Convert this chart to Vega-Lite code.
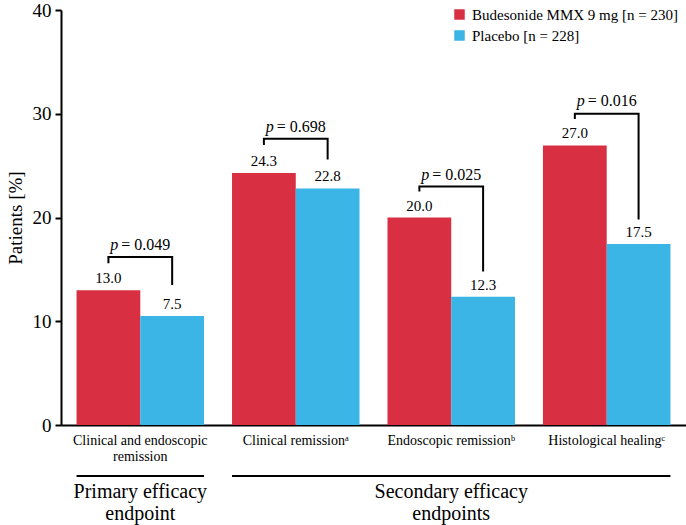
{
  "$schema": "https://vega.github.io/schema/vega-lite/v6.json",
  "autosize": "none",
  "padding": {"left": 61, "top": 10, "right": 0, "bottom": 100},
  "width": 625,
  "height": 415,
  "config": {
    "font": "Liberation Serif",
    "view": {"stroke": null},
    "axis": {"grid": false, "domainColor": "#000", "tickColor": "#000", "labelColor": "#000", "titleColor": "#000", "domainWidth": 2, "tickWidth": 2},
    "legend": {"labelColor": "#000"}
  },
  "datasets": {
    "bars": [
      {"group": "Clinical and endoscopic remission", "series": "Budesonide MMX 9 mg [n = 230]", "value": 13.0, "label": "13.0"},
      {"group": "Clinical and endoscopic remission", "series": "Placebo [n = 228]", "value": 10.5, "label": "7.5"},
      {"group": "Clinical remissionᵃ", "series": "Budesonide MMX 9 mg [n = 230]", "value": 24.3, "label": "24.3"},
      {"group": "Clinical remissionᵃ", "series": "Placebo [n = 228]", "value": 22.8, "label": "22.8"},
      {"group": "Endoscopic remissionᵇ", "series": "Budesonide MMX 9 mg [n = 230]", "value": 20.0, "label": "20.0"},
      {"group": "Endoscopic remissionᵇ", "series": "Placebo [n = 228]", "value": 12.35, "label": "12.3"},
      {"group": "Histological healingᶜ", "series": "Budesonide MMX 9 mg [n = 230]", "value": 26.95, "label": "27.0"},
      {"group": "Histological healingᶜ", "series": "Placebo [n = 228]", "value": 17.45, "label": "17.5"}
    ],
    "brackets": [
      {"group": "Clinical and endoscopic remission", "series": "Budesonide MMX 9 mg [n = 230]", "y": 15.6, "k": 1},
      {"group": "Clinical and endoscopic remission", "series": "Budesonide MMX 9 mg [n = 230]", "y": 16.2, "k": 2},
      {"group": "Clinical and endoscopic remission", "series": "Placebo [n = 228]", "y": 16.2, "k": 3},
      {"group": "Clinical and endoscopic remission", "series": "Placebo [n = 228]", "y": 13.5, "k": 4},
      {"group": "Clinical remissionᵃ", "series": "Budesonide MMX 9 mg [n = 230]", "y": 27.0, "k": 1},
      {"group": "Clinical remissionᵃ", "series": "Budesonide MMX 9 mg [n = 230]", "y": 27.6, "k": 2},
      {"group": "Clinical remissionᵃ", "series": "Placebo [n = 228]", "y": 27.6, "k": 3},
      {"group": "Clinical remissionᵃ", "series": "Placebo [n = 228]", "y": 25.6, "k": 4},
      {"group": "Endoscopic remissionᵇ", "series": "Budesonide MMX 9 mg [n = 230]", "y": 22.5, "k": 1},
      {"group": "Endoscopic remissionᵇ", "series": "Budesonide MMX 9 mg [n = 230]", "y": 23.0, "k": 2},
      {"group": "Endoscopic remissionᵇ", "series": "Placebo [n = 228]", "y": 23.0, "k": 3},
      {"group": "Endoscopic remissionᵇ", "series": "Placebo [n = 228]", "y": 14.8, "k": 4},
      {"group": "Histological healingᶜ", "series": "Budesonide MMX 9 mg [n = 230]", "y": 29.5, "k": 1},
      {"group": "Histological healingᶜ", "series": "Budesonide MMX 9 mg [n = 230]", "y": 30.0, "k": 2},
      {"group": "Histological healingᶜ", "series": "Placebo [n = 228]", "y": 30.0, "k": 3},
      {"group": "Histological healingᶜ", "series": "Placebo [n = 228]", "y": 19.8, "k": 4}
    ],
    "pvals": [
      {"group": "Clinical and endoscopic remission", "y": 17.35, "p": "p", "text": "= 0.049"},
      {"group": "Clinical remissionᵃ", "y": 28.7, "p": "p", "text": "= 0.698"},
      {"group": "Endoscopic remissionᵇ", "y": 24.1, "p": "p", "text": "= 0.025"},
      {"group": "Histological healingᶜ", "y": 31.2, "p": "p", "text": "= 0.016"}
    ],
    "sections": [
      {"start": "Clinical and endoscopic remission", "end": "Clinical and endoscopic remission", "center": "Clinical and endoscopic remission", "name": "Primary efficacy\nendpoint"},
      {"start": "Clinical remissionᵃ", "end": "Histological healingᶜ", "center": "Endoscopic remissionᵇ", "name": "Secondary efficacy\nendpoints"}
    ]
  },
  "encoding": {
    "x": {
      "field": "group", "type": "nominal", "sort": null,
      "scale": {"paddingInner": 0.18, "paddingOuter": 0.1, "domain": ["Clinical and endoscopic remission", "Clinical remissionᵃ", "Endoscopic remissionᵇ", "Histological healingᶜ"]},
      "axis": {"title": null, "labelAngle": 0, "ticks": false, "labelFontSize": 14, "labelPadding": 8, "labelLineHeight": 16, "labelBaseline": "top", "labelLimit": 200,
        "labelExpr": "datum.value == 'Clinical and endoscopic remission' ? ['Clinical and endoscopic', 'remission'] : datum.value"}
    }
  },
  "layer": [
    {
      "data": {"name": "bars"},
      "mark": {"type": "bar"},
      "encoding": {
        "xOffset": {"field": "series", "type": "nominal", "sort": null, "scale": {"paddingInner": 0, "domain": ["Budesonide MMX 9 mg [n = 230]", "Placebo [n = 228]"]}},
        "y": {"field": "value", "type": "quantitative", "scale": {"domain": [0, 40], "nice": false},
          "axis": {"title": "Patients [%]", "values": [0, 10, 20, 30, 40], "tickSize": 6, "labelPadding": 4, "labelFontSize": 19, "titleFontSize": 19, "titleFontWeight": "normal", "titlePadding": 7}},
        "color": {"field": "series", "type": "nominal", "sort": null,
          "scale": {"domain": ["Budesonide MMX 9 mg [n = 230]", "Placebo [n = 228]"], "range": ["#d82f43", "#3bb4e6"]},
          "legend": {"title": null, "orient": "none", "legendX": 391, "legendY": -3, "symbolType": "square", "symbolSize": 110, "symbolStrokeWidth": 0, "labelFontSize": 15, "labelOffset": 5, "rowPadding": 5, "labelLimit": 300}}
      }
    },
    {
      "data": {"name": "bars"},
      "mark": {"type": "text", "baseline": "middle", "dy": -12, "fontSize": 15, "color": "#000"},
      "encoding": {
        "xOffset": {"field": "series", "type": "nominal", "sort": null},
        "y": {"field": "value", "type": "quantitative"},
        "text": {"field": "label", "type": "nominal"}
      }
    },
    {
      "data": {"name": "brackets"},
      "mark": {"type": "line", "color": "#000", "strokeWidth": 2, "interpolate": "linear"},
      "encoding": {
        "xOffset": {"field": "series", "type": "nominal", "sort": null},
        "y": {"field": "y", "type": "quantitative"},
        "detail": {"field": "group", "type": "nominal"},
        "order": {"field": "k", "type": "quantitative"}
      }
    },
    {
      "data": {"name": "pvals"},
      "mark": {"type": "text", "align": "right", "baseline": "middle", "dx": -22, "fontSize": 16, "fontStyle": "italic", "color": "#000"},
      "encoding": {
        "y": {"field": "y", "type": "quantitative"},
        "text": {"field": "p", "type": "nominal"}
      }
    },
    {
      "data": {"name": "pvals"},
      "mark": {"type": "text", "align": "left", "baseline": "middle", "dx": -19, "fontSize": 16, "color": "#000"},
      "encoding": {
        "y": {"field": "y", "type": "quantitative"},
        "text": {"field": "text", "type": "nominal"}
      }
    },
    {
      "data": {"name": "sections"},
      "mark": {"type": "rule", "color": "#000", "strokeWidth": 2},
      "encoding": {
        "x": {"field": "start", "type": "nominal", "bandPosition": 0},
        "x2": {"field": "end", "bandPosition": 1},
        "y": {"datum": -4.92}
      }
    },
    {
      "data": {"name": "sections"},
      "mark": {"type": "text", "baseline": "top", "align": "center", "fontSize": 20, "lineBreak": "\n", "lineHeight": 22, "color": "#000"},
      "encoding": {
        "x": {"field": "center", "type": "nominal"},
        "y": {"datum": -5.5},
        "text": {"field": "name", "type": "nominal"}
      }
    }
  ]
}
